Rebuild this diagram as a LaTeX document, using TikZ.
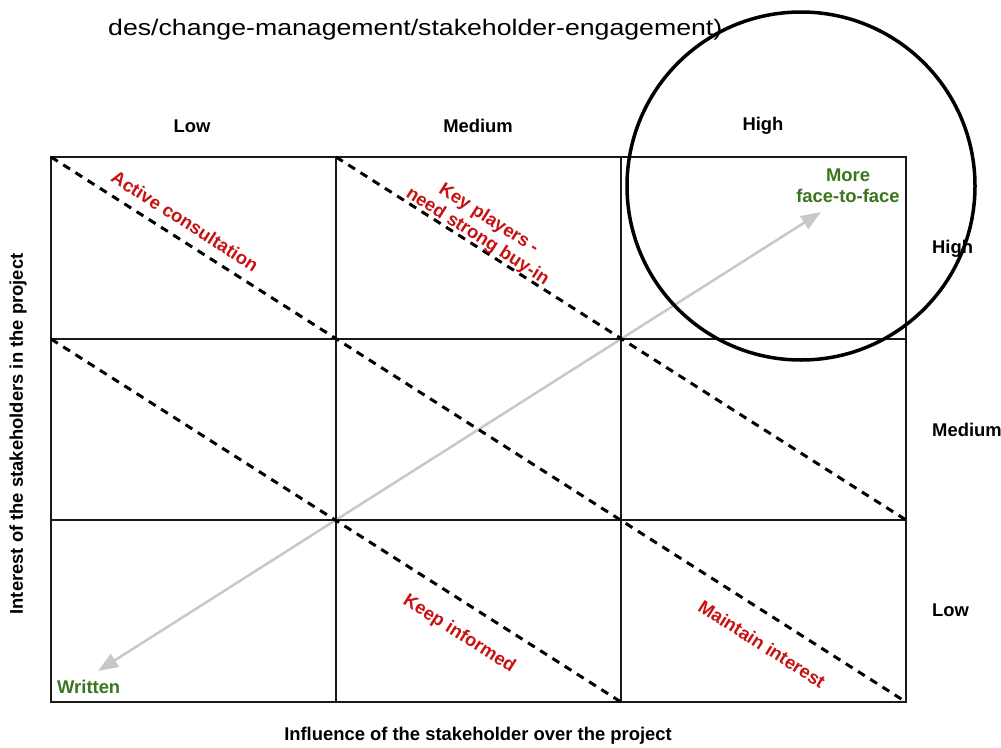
\documentclass[tikz,border=0pt]{standalone}
\usepackage{fontspec}
\setmainfont{Liberation Sans}
\usetikzlibrary{arrows.meta}
\definecolor{labelred}{RGB}{200,18,18}
\definecolor{labelgreen}{RGB}{58,118,30}
\definecolor{arrowgrey}{RGB}{200,200,200}
\begin{document}
\begin{tikzpicture}[x=1pt,y=-1pt,
  gridline/.style={line width=2pt, draw=black!90},
  diag/.style={line width=3pt, dash pattern=on 8pt off 6.5pt, draw=black},
  greyarrow/.style={line width=2.5pt, draw=arrowgrey,
    {Triangle[length=20pt,width=15pt,fill=arrowgrey]}-{Triangle[length=20pt,width=15pt,fill=arrowgrey]}},
  axislabel/.style={font=\fontsize{18.4}{21}\selectfont\bfseries, inner sep=0pt},
  zonelabel/.style={axislabel, text=labelred, rotate=-32.5, align=center},
  modelabel/.style={axislabel, text=labelgreen, align=center},
  marker/.style={line width=3.5pt, draw=black},
]
\useasboundingbox (0,0) rectangle (1001,747);
\fill[white] (0,0) rectangle (1001,747);

% source line above the chart
\node[anchor=base west, inner sep=0pt] (cite) at (108,35)
  {\fontsize{22.5}{26}\selectfont\scalebox{1.186}[1]{des/change-management/stakeholder-engagement)}};

% grid corners: g<column><row>
\foreach \i/\x in {0/51,1/336,2/621,3/906}
  \foreach \j/\y in {0/157,1/339,2/520,3/702}
    \path (\x,\y) coordinate (g\i\j);

% engagement direction arrow
\coordinate (written end) at (98,671);
\coordinate (face end) at (821,212);
\draw[greyarrow] (written end) -- (face end);

% 3x3 grid
\draw[gridline] (g00) rectangle (g33);
\draw[gridline] (g10) -- (g13);
\draw[gridline] (g20) -- (g23);
\draw[gridline] (g01) -- (g31);
\draw[gridline] (g02) -- (g32);

% dashed zone boundaries
\draw[diag] (g00) -- (g33);
\draw[diag] (g10) -- (g32);
\draw[diag] (g01) -- (g23);

% zone labels
\node[zonelabel] (active) at (185,221) {Active consultation};
\node[zonelabel] (key) at (483,228) {Key players -\\need strong buy-in};
\node[zonelabel] (informed) at (459,634) {Keep informed};
\node[zonelabel] (maintain) at (762,644) {Maintain interest};

% communication mode labels
\node[modelabel] (face) at (848,186) {More\\face-to-face};
\node[modelabel, anchor=west] (written) at (57,687) {Written};

% influence levels
\node[axislabel] (colLow) at (192,126) {Low};
\node[axislabel] (colMed) at (478,126) {Medium};
\node[axislabel] (colHigh) at (763,126) {High};

% interest levels
\node[axislabel, anchor=west] (rowHigh) at (932,249) {High};
\node[axislabel, anchor=west] (rowMed) at (932,430) {Medium};
\node[axislabel, anchor=west] (rowLow) at (932,610) {Low};

% axis titles
\node[axislabel, rotate=90] (ytitle) at (18,434) {Interest of the stakeholders in the project};
\node[axislabel] (xtitle) at (478,736) {Influence of the stakeholder over the project};

% hand-drawn highlight ring
\draw[marker] (801,186) circle[radius=174pt];
\end{tikzpicture}
\end{document}
